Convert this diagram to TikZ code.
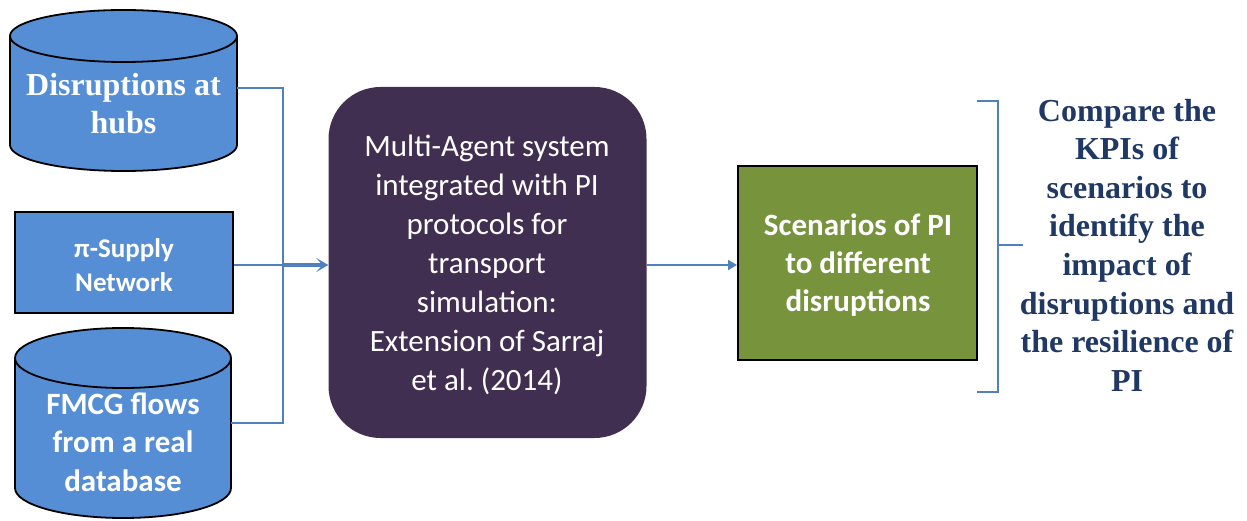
\documentclass[tikz,border=0pt]{standalone}
\usepackage{fontspec}
\setmainfont{Liberation Serif}
\newfontfamily\calfont{Carlito}
\usetikzlibrary{arrows.meta}
\definecolor{cylblue}{HTML}{558ED5}
\definecolor{purp}{HTML}{412F51}
\definecolor{grn}{HTML}{77933C}
\definecolor{connc}{HTML}{4F81BD}
\definecolor{navy}{HTML}{1F3864}
\frenchspacing
\tikzset{
  blueshape/.style={fill=cylblue, draw=black, line width=1.8pt},
  conn/.style={draw=connc, line width=2.4pt},
  arrA/.style={draw=connc, line width=3.4pt, -{Stealth[length=12pt,width=14pt,inset=6pt]}},
  arrB/.style={conn, -{Triangle[length=9pt,width=10pt]}},
  txt/.style={align=center, inner sep=0pt},
}
\begin{document}
\begin{tikzpicture}[x=1pt,y=-1pt]
\useasboundingbox (0,0) rectangle (1247,521);
% cylinder 1
\path[blueshape] (10,36) -- (10,145) arc[start angle=180,end angle=0,x radius=113.5,y radius=26] -- (237,36) -- cycle;
\path[blueshape] (123.5,36) ellipse [x radius=113.5, y radius=26];
\node[txt, text=white, font=\fontsize{32}{38}\selectfont\bfseries] (cyl1) at (123.5,104) {Disruptions at\\hubs};
\coordinate (c1out) at (237,88);
% pi rectangle
\node[blueshape, minimum width=218pt, minimum height=101pt, inner sep=0pt] (pirect) at (124,262.5) {};
\node[txt, text=white, font=\calfont\fontsize{27}{34}\selectfont\bfseries] (pitext) at (124,265) {π-Supply\\Network};
% cylinder 2
\path[blueshape] (15,358) -- (15,488) arc[start angle=180,end angle=0,x radius=108,y radius=30] -- (231,358) -- cycle;
\path[blueshape] (123,358) ellipse [x radius=108, y radius=30];
\node[txt, text=white, font=\calfont\fontsize{31}{38.5}\selectfont\bfseries] (cyl2) at (123,442) {FMCG flows\\from a real\\database};
\coordinate (c2out) at (231,423);
% purple box
\node[fill=purp, rounded corners=52pt, minimum width=318pt, minimum height=351pt, inner sep=0pt] (ma) at (487.5,262.5) {};
\node[txt, text=white, font=\calfont\fontsize{31}{39}\selectfont] (matext) at (487,265) {Multi-Agent system\\integrated with PI\\protocols for\\transport\\simulation:\\Extension of Sarraj\\et al. (2014)};
% green box
\node[fill=grn, draw=black, line width=2pt, minimum width=239pt, minimum height=194pt, inner sep=0pt] (sc) at (857.5,263) {};
\node[txt, text=white, font=\calfont\fontsize{31}{38}\selectfont\bfseries] (sctext) at (858,265) {Scenarios of PI\\to different\\disruptions};
% right text
\node[txt, text=navy, font=\fontsize{32}{38.6}\selectfont\bfseries] (cmp) at (1127,245) {Compare the\\KPIs of\\scenarios to\\identify the\\impact of\\disruptions and\\the resilience of\\PI};
% connectors
\coordinate (j) at (283,265);
\draw[conn] (c1out) -| (j);
\draw[conn] (c2out) -| (j);
\draw[conn] (pirect.east |- j) -- (j);
\draw[arrA] (j) -- (ma.west |- j);
\draw[arrB] (ma.east |- j) -- (sc.west |- j);
% bracket
\draw[conn, line width=2.6pt] (977,101) -- (998,101) -- (998,392) -- (977,392);
\draw[conn, line width=2.6pt] (998,245) -- (1023,245);
\end{tikzpicture}
\end{document}
